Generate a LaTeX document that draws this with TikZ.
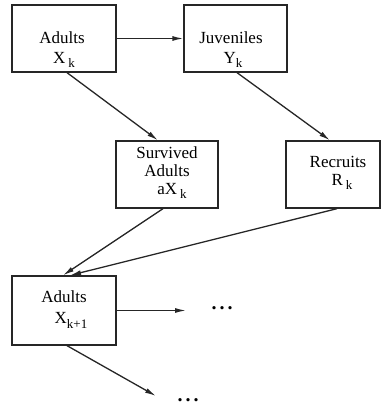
\documentclass[tikz,border=0pt]{standalone}
\usepackage{fontspec}
\setmainfont{Liberation Serif}
\usetikzlibrary{arrows.meta}
\newcommand{\sbk}[1]{\raisebox{-4pt}{\fontsize{13}{13}\selectfont #1}}
\tikzset{
  boxnode/.style={draw=black!85, line width=1.3pt, inner sep=0pt, minimum width=104pt, minimum height=67pt},
  lbl/.style={inner sep=0pt, font=\fontsize{17}{17}\selectfont},
  arr/.style={draw=black!85, line width=1.3pt, -{Latex[length=11pt,width=5pt]}},
  dotsnode/.style={inner sep=0pt, font=\fontsize{20}{20}\selectfont\bfseries}
}
\begin{document}
\begin{tikzpicture}[x=1pt,y=-1pt]
\useasboundingbox (0,0) rectangle (382,412);
% boxes
\node[boxnode] (A) at (64,38.5) {};
\node[boxnode, minimum width=103pt] (J) at (235.5,38.5) {};
\node[boxnode, minimum width=102pt] (S) at (167,174.5) {};
\node[boxnode, minimum width=94pt] (R) at (333,174.5) {};
\node[boxnode, minimum height=69pt] (X1) at (64,310.5) {};
% texts
\node[lbl] (tA1) at (62,38) {Adults};
\node[lbl] (tA2) at (64,60) {X\,\sbk{k}};
\node[lbl] (tJ1) at (231,38) {Juveniles};
\node[lbl] (tJ2) at (233,60) {Y\sbk{k}};
\node[lbl] (tS1) at (167,153) {Survived};
\node[lbl] (tS2) at (167,171) {Adults};
\node[lbl] (tS3) at (172,191) {aX\,\sbk{k}};
\node[lbl] (tR1) at (338,162) {Recruits};
\node[lbl] (tR2) at (342,182) {R\,\sbk{k}};
\node[lbl] (tX1) at (64,297) {Adults};
\node[lbl] (tX2) at (71,320) {X\raisebox{-5pt}{\fontsize{13}{13}\selectfont k+1}};
% dots
\node[dotsnode] (d1) at (222,308) {.\kern3pt.\kern3pt.};
\node[dotsnode] (d2) at (188,400) {.\kern3pt.\kern3pt.};
\coordinate (e1) at (186,310.5);
\coordinate (e2) at (156,396);
% arrows
\draw[arr] (A.east) -- (J.west);
\draw[arr] ([xshift=3pt]A.south) -- ([xshift=-9pt]S.north);
\draw[arr] ([xshift=1.5pt]J.south) -- ([xshift=-3pt]R.north);
\draw[arr] ([xshift=-4pt]S.south) -- ([xshift=-1pt]X1.north);
\draw[arr] ([xshift=4pt]R.south) -- ([xshift=6pt]X1.north);
\draw[arr] (X1.east) -- (e1);
\draw[arr] ([xshift=3pt]X1.south) -- (e2);
\end{tikzpicture}
\end{document}
